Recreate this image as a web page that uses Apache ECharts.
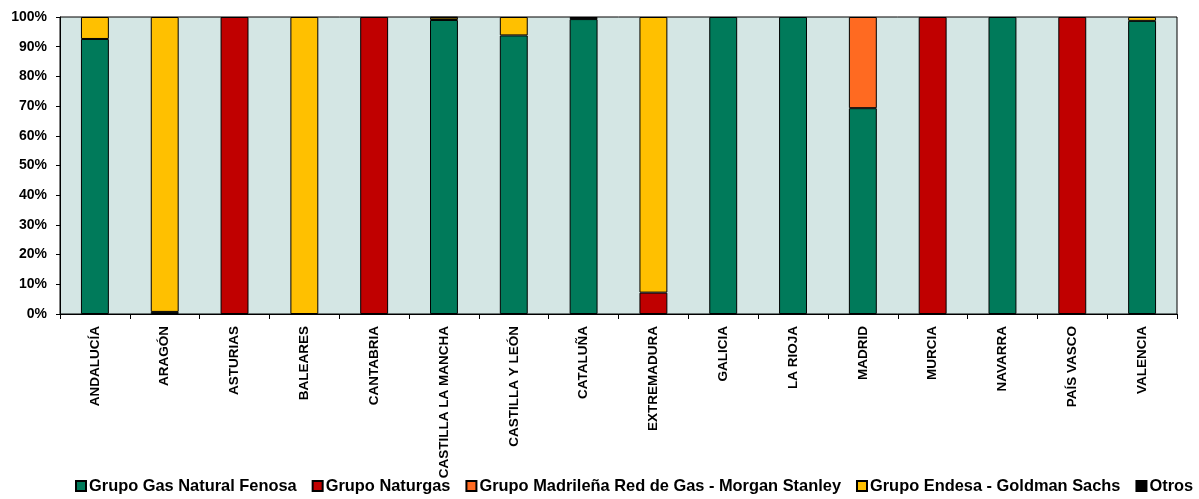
<!DOCTYPE html>
<html>
<head>
<meta charset="utf-8">
<script src="https://cdn.jsdelivr.net/npm/echarts@6/dist/echarts.min.js"></script>
<style>
html,body{margin:0;padding:0;background:#fff;}
#chart{width:1199px;height:499px;}
</style>
</head>
<body>
<div id="chart"></div>
<script>
const categories = ['ANDALUCÍA','ARAGÓN','ASTURIAS','BALEARES','CANTABRIA','CASTILLA LA MANCHA','CASTILLA Y LEÓN','CATALUÑA','EXTREMADURA','GALICIA','LA RIOJA','MADRID','MURCIA','NAVARRA','PAÍS VASCO','VALENCIA'];
const gasNatural = [92.6, 0.7, null, null, null, 99.0, 93.8, 99.3, null, 100, 100, 69.3, null, 100, null, 98.7];
const naturgas   = [null, null, 100, null, 100, null, null, null, 7.2, null, null, null, 100, null, 100, null];
const madrilena  = [null, null, null, null, null, null, null, null, null, null, null, 30.7, null, null, null, null];
const endesa     = [7.4, 99.3, null, 100, null, 0.8, 6.2, null, 92.8, null, null, null, null, null, null, 1.3];
const otros      = [null, null, null, null, null, 0.2, null, 0.7, null, null, null, null, null, null, null, null];
const seriesNames = ['Grupo Gas Natural Fenosa','Grupo Naturgas','Grupo Madrileña Red de Gas - Morgan Stanley','Grupo Endesa - Goldman Sachs','Otros'];
const yTicks = [0,10,20,30,40,50,60,70,80,90,100];

const colors = ['#007A5A','#C00000','#FF6A21','#FFC000','#000000'];
const dataSets = [gasNatural, naturgas, madrilena, endesa, otros];
const font = 'Arial, "Liberation Sans", sans-serif';

const chart = echarts.init(document.getElementById('chart'), null, {renderer:'canvas'});
chart.setOption({
  animation:false,
  grid:{left:60, right:22, top:17, bottom:185, show:true, backgroundColor:'#D4E6E4', borderColor:'#000', borderWidth:1},
  legend:{
    bottom:0, left:70, width:1129, padding:5,
    itemWidth:10, itemHeight:10, itemGap:15, icon:'rect',
    textStyle:{fontFamily:font, fontWeight:'bold', fontSize:16.4, color:'#000', padding:[0,0,0,-2]},
    data:seriesNames
  },
  xAxis:{
    type:'category', data:categories,
    axisLine:{lineStyle:{color:'#000', width:1}},
    axisTick:{show:true, length:5, lineStyle:{color:'#000'}},
    axisLabel:{rotate:90, interval:0, margin:12, fontFamily:font, fontWeight:'bold', fontSize:13.5, color:'#000'},
    splitLine:{show:false}
  },
  yAxis:{
    type:'value', min:yTicks[0], max:yTicks[yTicks.length-1], interval:10,
    axisLine:{show:true, lineStyle:{color:'#000'}},
    axisTick:{show:true, length:4, lineStyle:{color:'#000'}},
    axisLabel:{formatter:'{value}%', margin:13, fontFamily:font, fontWeight:'bold', fontSize:14, color:'#000'},
    splitLine:{show:false}
  },
  series: seriesNames.map((n,i)=>({
    name:n, type:'bar', stack:'total', barWidth:'40%',
    data:dataSets[i],
    itemStyle:{color:colors[i], borderColor:'#000', borderWidth:1}
  }))
});
</script>
</body>
</html>
